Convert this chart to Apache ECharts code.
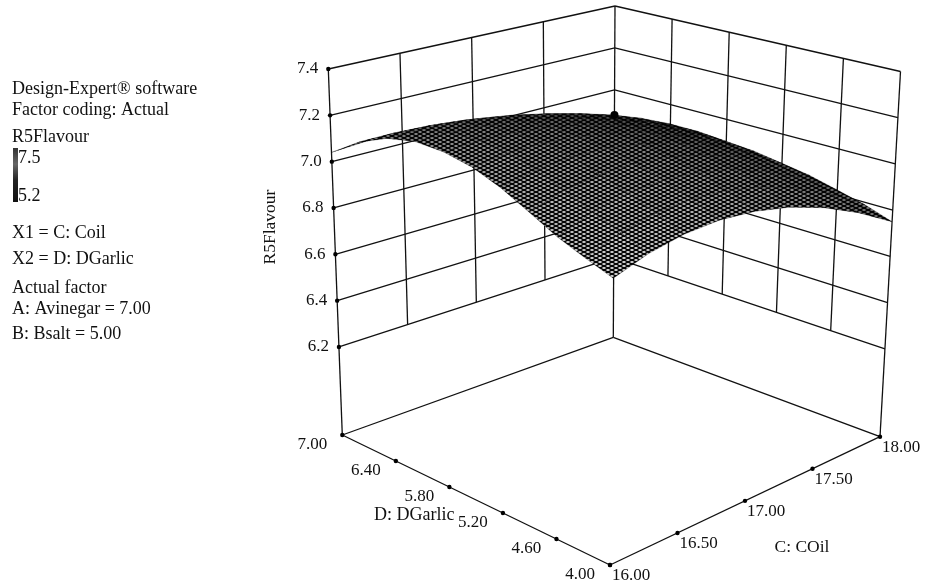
<!DOCTYPE html>
<html><head><meta charset="utf-8">
<script src="https://cdn.jsdelivr.net/npm/echarts@6/dist/echarts.min.js"></script>
<style>html,body{margin:0;padding:0;background:#fff}#chart{width:925px;height:586px}</style>
</head><body><div id="chart"></div>
<script>
// ---------------- data ----------------
const cValues = [16, 16.25, 16.5, 16.75, 17, 17.25, 17.5, 17.75, 18];          // C: COil
const dValues = [4, 4.3, 4.6, 4.9, 5.2, 5.5, 5.8, 6.1, 6.4, 6.7, 7];          // D: DGarlic
// R5Flavour surface, one row per D value, columns follow cValues
const flavour = [
  [6.925, 6.974, 7.003, 7.012, 7.000, 6.968, 6.916, 6.843, 6.750],
  [6.965, 7.019, 7.051, 7.061, 7.050, 7.017, 6.963, 6.887, 6.790],
  [7.010, 7.063, 7.094, 7.103, 7.090, 7.055, 6.999, 6.920, 6.820],
  [7.070, 7.113, 7.135, 7.138, 7.120, 7.083, 7.025, 6.948, 6.850],
  [7.130, 7.159, 7.170, 7.164, 7.140, 7.099, 7.040, 6.964, 6.870],
  [7.175, 7.191, 7.192, 7.178, 7.150, 7.107, 7.049, 6.977, 6.890],
  [7.200, 7.206, 7.200, 7.181, 7.150, 7.106, 7.050, 6.981, 6.900],
  [7.205, 7.204, 7.193, 7.172, 7.140, 7.098, 7.046, 6.983, 6.910],
  [7.180, 7.179, 7.169, 7.149, 7.120, 7.082, 7.034, 6.977, 6.910],
  [7.125, 7.126, 7.119, 7.104, 7.080, 7.048, 7.007, 6.958, 6.900],
  [7.040, 7.051, 7.053, 7.046, 7.030, 7.006, 6.973, 6.931, 6.880]
];
const designPoints = [[18, 7, 6.88]];
const cTicks = [16, 16.5, 17, 17.5, 18];
const dTicks = [4, 4.6, 5.2, 5.8, 6.4, 7];
const zTicks = [6.2, 6.4, 6.6, 6.8, 7.0, 7.2, 7.4];
const axisNames = ['C: COil', 'D: DGarlic', 'R5Flavour'];
const infoLines = ['Design-Expert® software', 'Factor coding: Actual', 'R5Flavour',
  'X1 = C: Coil', 'X2 = D: DGarlic', 'Actual factor', 'A: Avinegar = 7.00', 'B: Bsalt = 5.00'];
const legendRange = ['7.5', '5.2'];

// ---------------- 3D view (box corners on the view plane) ----------------
const FLOOR_Z = 5.82;
const VIEW = {
  f00: [610, 565], f10: [880, 436.7], f01: [342.3, 435], f11: [613.3, 337.3],
  t00: [614.7, 155], t10: [900.5, 71.5], t01: [328.3, 69], t11: [615, 6]
};
const C_MIN = cTicks[0], C_MAX = cTicks[cTicks.length - 1];
const D_MIN = dTicks[0], D_MAX = dTicks[dTicks.length - 1];
const Z_LO = zTicks[0], Z_HI = zTicks[zTicks.length - 1];

function bilerp(a, b, c, d, u, v, k) {
  return (1 - u) * (1 - v) * a[k] + u * (1 - v) * b[k] + (1 - u) * v * c[k] + u * v * d[k];
}
function project(C, D, z) {
  const u = (C - C_MIN) / (C_MAX - C_MIN), v = (D - D_MIN) / (D_MAX - D_MIN);
  const w = (z - FLOOR_Z) / (Z_HI - FLOOR_Z);
  const V = VIEW;
  const fx = bilerp(V.f00, V.f10, V.f01, V.f11, u, v, 0), fy = bilerp(V.f00, V.f10, V.f01, V.f11, u, v, 1);
  const tx = bilerp(V.t00, V.t10, V.t01, V.t11, u, v, 0), ty = bilerp(V.t00, V.t10, V.t01, V.t11, u, v, 1);
  return [fx + w * (tx - fx), fy + w * (ty - fy)];
}

// ---------------- frame segments ----------------
const frameSegs = [
  [C_MIN, D_MIN, FLOOR_Z, C_MIN, D_MAX, FLOOR_Z],
  [C_MIN, D_MIN, FLOOR_Z, C_MAX, D_MIN, FLOOR_Z],
  [C_MIN, D_MAX, FLOOR_Z, C_MAX, D_MAX, FLOOR_Z],
  [C_MAX, D_MIN, FLOOR_Z, C_MAX, D_MAX, FLOOR_Z],
  [C_MIN, D_MAX, FLOOR_Z, C_MIN, D_MAX, Z_HI],
  [C_MAX, D_MAX, FLOOR_Z, C_MAX, D_MAX, Z_HI],
  [C_MAX, D_MIN, FLOOR_Z, C_MAX, D_MIN, Z_HI]
];
zTicks.forEach(z => {
  frameSegs.push([C_MIN, D_MAX, z, C_MAX, D_MAX, z]);
  frameSegs.push([C_MAX, D_MAX, z, C_MAX, D_MIN, z]);
});
cTicks.slice(1, -1).forEach(c => frameSegs.push([c, D_MAX, Z_LO, c, D_MAX, Z_HI]));
dTicks.slice(1, -1).forEach(d => frameSegs.push([C_MAX, d, Z_LO, C_MAX, d, Z_HI]));

// ---------------- surface cells (far to near) ----------------
const cells = [];
for (let j = 0; j < dValues.length - 1; j++) {
  for (let i = 0; i < cValues.length - 1; i++) {
    cells.push([cValues[i], dValues[j], cValues[i + 1], dValues[j + 1],
      flavour[j][i], flavour[j][i + 1], flavour[j + 1][i], flavour[j + 1][i + 1]]);
  }
}
function depthOf(cell) {
  return ((cell[0] + cell[2]) / 2 - C_MIN) / (C_MAX - C_MIN) + ((cell[1] + cell[3]) / 2 - D_MIN) / (D_MAX - D_MIN);
}
cells.sort((a, b) => depthOf(b) - depthOf(a));

// mesh texture
const meshTile = document.createElement('canvas');
meshTile.width = 8; meshTile.height = 4;
(function () {
  const g = meshTile.getContext('2d');
  g.fillStyle = '#ffffff'; g.fillRect(0, 0, 8, 4);
  g.strokeStyle = '#000'; g.lineWidth = 1.4;
  for (let k = -1; k <= 1; k++) for (let m = -1; m <= 1; m++) {
    g.beginPath(); g.moveTo(k * 8, m * 4); g.lineTo(k * 8 + 8, m * 4 + 4); g.stroke();
    g.beginPath(); g.moveTo(k * 8, m * 4 + 4); g.lineTo(k * 8 + 8, m * 4); g.stroke();
  }
})();
const meshFill = { image: meshTile, repeat: 'repeat' };

const FONT = 'Liberation Serif';
const TXT = '#111';

const chart = echarts.init(document.getElementById('chart'));
const infoY = [89, 110, 137, 233, 259, 288, 309, 334];
const graphics = infoLines.map((t, k) => ({
  type: 'text', x: 12, y: infoY[k],
  style: { text: t, fill: TXT, fontSize: 18, fontFamily: FONT, verticalAlign: 'middle', textVerticalAlign: 'middle' }
}));
graphics.push({
  type: 'rect', shape: { x: 13, y: 148, width: 5, height: 54 },
  style: { fill: new echarts.graphic.LinearGradient(0, 0, 0, 1, [
    { offset: 0, color: '#333' }, { offset: 0.3, color: '#666' }, { offset: 0.6, color: '#222' }, { offset: 1, color: '#111' }]) }
});
graphics.push({ type: 'text', x: 18, y: 158, style: { text: legendRange[0], fill: TXT, fontSize: 18, fontFamily: FONT, verticalAlign: 'middle', textVerticalAlign: 'middle' } });
graphics.push({ type: 'text', x: 18, y: 196, style: { text: legendRange[1], fill: TXT, fontSize: 18, fontFamily: FONT, verticalAlign: 'middle', textVerticalAlign: 'middle' } });

function textEl(x, y, text, align, rot, size) {
  return {
    type: 'text', x: x, y: y, rotation: rot || 0,
    style: { text: text, fill: TXT, fontSize: size || 17, fontFamily: FONT, align: align, textAlign: align,
      verticalAlign: 'middle', textVerticalAlign: 'middle' }
  };
}

const option = {
  animation: false,
  backgroundColor: '#fff',
  grid: { left: 0, right: 0, top: 0, bottom: 0 },
  xAxis: { type: 'value', min: 0, max: 925, show: false },
  yAxis: { type: 'value', min: 0, max: 586, inverse: true, show: false },
  graphic: graphics,
  series: [
    {
      type: 'custom', name: 'frame', clip: false, silent: true,
      data: frameSegs,
      renderItem: function (params, api) {
        const a = api.coord(project(api.value(0), api.value(1), api.value(2)));
        const b = api.coord(project(api.value(3), api.value(4), api.value(5)));
        return { type: 'line', shape: { x1: a[0], y1: a[1], x2: b[0], y2: b[1] },
          style: { stroke: '#111', lineWidth: 1.3 } };
      }
    },
    {
      type: 'custom', name: 'R5Flavour', clip: false, silent: true,
      data: cells,
      renderItem: function (params, api) {
        const c0 = api.value(0), d0 = api.value(1), c1 = api.value(2), d1 = api.value(3);
        const pts = [project(c0, d0, api.value(4)), project(c1, d0, api.value(5)),
          project(c1, d1, api.value(7)), project(c0, d1, api.value(6))].map(q => api.coord(q));
        const depth = ((c0 + c1) / 2 - C_MIN) / (C_MAX - C_MIN) + ((d0 + d1) / 2 - D_MIN) / (D_MAX - D_MIN);
        const alpha = Math.min(0.9, 0.1 + 0.45 * depth);
        return { type: 'group', children: [
          { type: 'polygon', shape: { points: pts }, style: { fill: meshFill, stroke: 'rgba(0,0,0,0.5)', lineWidth: 0.5 } },
          { type: 'polygon', shape: { points: pts }, style: { fill: 'rgba(0,0,0,' + alpha.toFixed(3) + ')' } }
        ] };
      }
    },
    {
      type: 'custom', name: 'design points', clip: false, silent: true,
      data: designPoints,
      renderItem: function (params, api) {
        const p = api.coord(project(api.value(0), api.value(1), api.value(2)));
        return { type: 'circle', shape: { cx: p[0], cy: p[1], r: 4 }, style: { fill: '#000' } };
      }
    },
    {
      type: 'custom', name: 'z ticks', clip: false, silent: true,
      data: zTicks.map(z => [C_MIN, D_MAX, z]),
      renderItem: function (params, api) {
        const p = api.coord(project(api.value(0), api.value(1), api.value(2)));
        return { type: 'group', children: [
          { type: 'circle', shape: { cx: p[0], cy: p[1], r: 2.2 }, style: { fill: '#000' } },
          textEl(p[0] - 10, p[1], api.value(2).toFixed(1), 'right')
        ] };
      }
    },
    {
      type: 'custom', name: 'd ticks', clip: false, silent: true,
      data: dTicks.map(d => [C_MIN, d, FLOOR_Z]),
      renderItem: function (params, api) {
        const p = api.coord(project(api.value(0), api.value(1), api.value(2)));
        return { type: 'group', children: [
          { type: 'circle', shape: { cx: p[0], cy: p[1], r: 2.2 }, style: { fill: '#000' } },
          textEl(p[0] - 30, p[1] + 10, api.value(1).toFixed(2), 'center')
        ] };
      }
    },
    {
      type: 'custom', name: 'c ticks', clip: false, silent: true,
      data: cTicks.map(c => [c, D_MIN, FLOOR_Z]),
      renderItem: function (params, api) {
        const p = api.coord(project(api.value(0), api.value(1), api.value(2)));
        return { type: 'group', children: [
          { type: 'circle', shape: { cx: p[0], cy: p[1], r: 2.2 }, style: { fill: '#000' } },
          textEl(p[0] + 21, p[1] + 11, api.value(0).toFixed(2), 'center')
        ] };
      }
    },
    {
      type: 'custom', name: 'axis names', clip: false, silent: true,
      data: [[(C_MIN + C_MAX) / 2, D_MIN, FLOOR_Z, 0], [C_MIN, (D_MIN + D_MAX) / 2, FLOOR_Z, 1], [C_MIN, D_MAX, 6.8, 2]],
      renderItem: function (params, api) {
        const k = api.value(3);
        const p = api.coord(project(api.value(0), api.value(1), api.value(2)));
        if (k === 0) return textEl(p[0] + 57, p[1] + 47, axisNames[0], 'center', 0, 17.5);
        if (k === 1) return textEl(p[0] - 62, p[1] + 15, axisNames[1], 'center', 0, 18);
        return textEl(p[0] - 63, p[1] + 19, axisNames[2], 'center', Math.PI / 2, 17.5);
      }
    }
  ]
};
chart.setOption(option);
</script>
</body></html>
